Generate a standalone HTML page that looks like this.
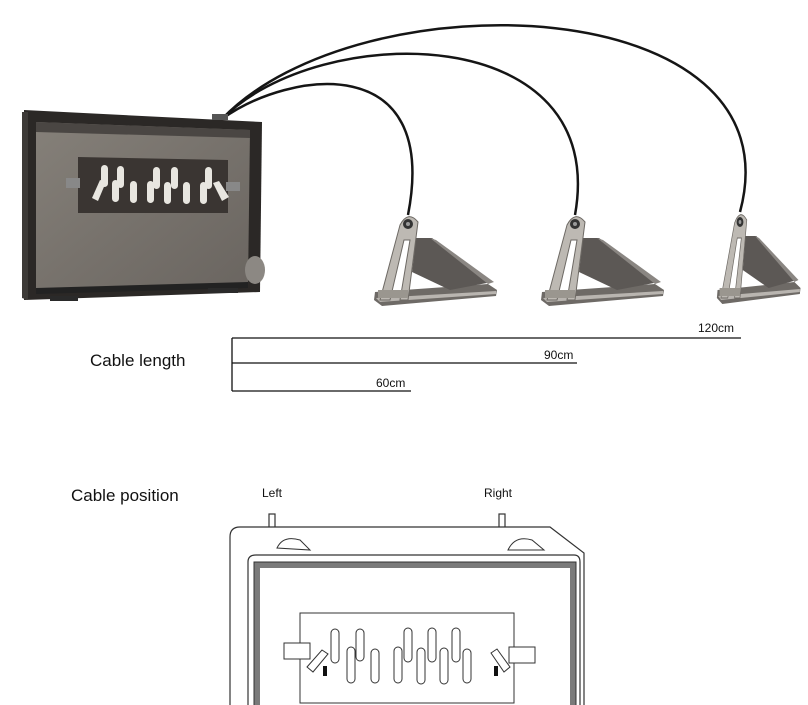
<!DOCTYPE html>
<html><head><meta charset="utf-8"><style>
body{margin:0;background:#fff;width:808px;height:705px;overflow:hidden}
svg{display:block}
text{font-family:"Liberation Sans",sans-serif;fill:#111}
</style></head><body>
<svg width="808" height="705" viewBox="0 0 808 705">
<defs>
<linearGradient id="wood" x1="0" y1="0" x2="1" y2="1">
<stop offset="0" stop-color="#858079"/><stop offset="0.5" stop-color="#77726c"/><stop offset="1" stop-color="#6a6560"/>
</linearGradient>
<g id="pedal">
<polygon points="375,292 488,284 497,290 496,296 382,306 374,300" fill="#6e6a66"/>
<polygon points="376,298 496,291 496,294 380,302" fill="#b9b5b0"/>
<polygon points="416,238 432,238 492,282 450,290 412,272" fill="#5c5855"/>
<polygon points="430,238 436,240 494,282 488,284" fill="#8a8682"/>
<path d="M400,225 Q408,210 418,222 L408,300 L400,300 L410,240 L404,240 L390,300 L380,300 Z" fill="#bdb9b3" stroke="#6d6964" stroke-width="1"/>
<circle cx="408" cy="224" r="5" fill="#333"/>
<circle cx="408" cy="224" r="2" fill="#999"/>
<rect x="378" y="290" width="30" height="8" fill="#9a968f"/>
</g>
</defs>

<!-- cables -->
<g fill="none" stroke="#151515" stroke-width="2.5">
<path d="M222,119 C290,70 440,50 408,215"/>
<path d="M222,119 C320,20 610,20 575,215"/>
<path d="M222,119 C360,-25 800,-10 740,212"/>
</g>

<!-- harmonium -->
<polygon points="24,110 262,122 260,292 24,300" fill="#2b2826"/>
<polygon points="36,122 250,130 248,286 36,292" fill="url(#wood)"/>
<polygon points="36,122 250,130 250,138 36,132" fill="#4a4643"/>
<polygon points="36,288 248,282 248,288 36,294" fill="#222"/>
<polygon points="22,112 28,112 28,300 22,298" fill="#3d3a37"/>
<rect x="212" y="114" width="16" height="6" fill="#555"/>
<polygon points="78,157 228,160 228,213 78,213" fill="#3a3532"/>
<rect x="66" y="178" width="14" height="10" fill="#888"/>
<rect x="226" y="182" width="14" height="9" fill="#888"/>
<g fill="#e8e6e0">
<rect x="101" y="165" width="7" height="22" rx="3.5"/><rect x="117" y="166" width="7" height="22" rx="3.5"/>
<rect x="112" y="180" width="7" height="22" rx="3.5"/><rect x="130" y="181" width="7" height="22" rx="3.5"/>
<rect x="153" y="167" width="7" height="22" rx="3.5"/><rect x="171" y="167" width="7" height="22" rx="3.5"/>
<rect x="147" y="181" width="7" height="22" rx="3.5"/><rect x="164" y="182" width="7" height="22" rx="3.5"/>
<rect x="183" y="182" width="7" height="22" rx="3.5"/><rect x="200" y="182" width="7" height="22" rx="3.5"/>
<rect x="205" y="167" width="7" height="22" rx="3.5"/>
<polygon points="92,198 100,180 106,182 98,201"/>
<polygon points="213,183 219,181 229,197 222,201"/>
</g>
<ellipse cx="255" cy="270" rx="10" ry="14" fill="#8c8883"/>
<rect x="50" y="296" width="28" height="5" fill="#2a2a2a"/>
<rect x="208" y="288" width="30" height="5" fill="#2a2a2a"/>

<!-- pedals -->
<use href="#pedal"/>
<use href="#pedal" transform="translate(167,0)"/>
<use href="#pedal" transform="translate(740,220) scale(0.68,1) translate(-408,-222)"/>

<!-- cable lengths -->
<g stroke="#111" stroke-width="1.3" fill="none">
<path d="M232,338 L741,338 M232,338 L232,391 M232,363 L577,363 M232,391 L411,391"/>
</g>
<text x="90" y="366" font-size="17">Cable length</text>
<text x="698" y="332" font-size="12">120cm</text>
<text x="544" y="359" font-size="12">90cm</text>
<text x="376" y="387" font-size="12">60cm</text>

<text x="71" y="501" font-size="17">Cable position</text>
<text x="262" y="497" font-size="12">Left</text>
<text x="484" y="497" font-size="12">Right</text>

<!-- drawing -->
<g stroke="#333" stroke-width="1.2" fill="#fff">
<rect x="269" y="514" width="6" height="15"/>
<rect x="499" y="514" width="6" height="15"/>
<path d="M230,705 L230,537 Q230,527 240,527 L550,527 L584,553 L584,705"/>
<path d="M248,705 L248,562 Q248,555 256,555 L574,555 Q580,555 580,562 L580,705"/>
</g>
<rect x="257" y="565" width="316" height="150" fill="none" stroke="#7a7a7a" stroke-width="6"/>
<rect x="254" y="562" width="322" height="150" fill="none" stroke="#333" stroke-width="1"/>
<g stroke="#333" stroke-width="1" fill="#fff">
<path d="M277,548 Q283,535 300,540 L310,550 Z"/>
<path d="M508,550 Q515,535 532,540 L544,550 Z"/>
<rect x="300" y="613" width="214" height="90"/>
<rect x="284" y="643" width="26" height="16"/>
<rect x="509" y="647" width="26" height="16"/>
</g>
<g stroke="#333" stroke-width="1" fill="#fff">
<rect x="331" y="629" width="8" height="34" rx="4"/><rect x="356" y="629" width="8" height="32" rx="4"/>
<rect x="347" y="647" width="8" height="36" rx="4"/><rect x="371" y="649" width="8" height="34" rx="4"/>
<rect x="404" y="628" width="8" height="34" rx="4"/><rect x="428" y="628" width="8" height="34" rx="4"/>
<rect x="452" y="628" width="8" height="34" rx="4"/>
<rect x="394" y="647" width="8" height="36" rx="4"/><rect x="417" y="648" width="8" height="36" rx="4"/>
<rect x="440" y="648" width="8" height="36" rx="4"/><rect x="463" y="649" width="8" height="34" rx="4"/>
<polygon points="307,667 322,650 328,654 313,672"/>
<polygon points="491,653 497,649 510,667 504,672"/>
</g>
<rect x="323" y="666" width="4" height="10" fill="#111"/>
<rect x="494" y="666" width="4" height="10" fill="#111"/>
</svg>
</body></html>
